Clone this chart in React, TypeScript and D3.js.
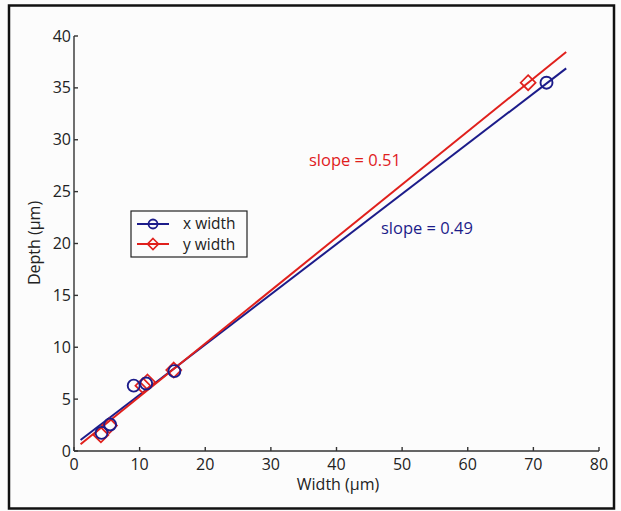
import React from "react";
import * as d3 from "d3";

const xWidthX = [4.2, 5.5, 9.1, 11.0, 15.3, 72.0];
const xWidthY = [1.75, 2.55, 6.3, 6.5, 7.7, 35.5];
const yWidthX = [4.1, 5.4, 10.5, 11.2, 15.2, 69.2];
const yWidthY = [1.55, 2.45, 6.3, 6.65, 7.8, 35.5];
const fitXRange = [1, 75];
const fitSlopes = [0.484, 0.511];
const fitIntercepts = [0.58, 0.14];
const xTicks = [0, 10, 20, 30, 40, 50, 60, 70, 80];
const yTicks = [0, 5, 10, 15, 20, 25, 30, 35, 40];
const seriesNames = ["x width", "y width"];
const slopeLabels = ["slope = 0.49", "slope = 0.51"];

const BLUE = "#1c1c8a";
const RED = "#e0201c";
const FONT = "'Open Sans', 'Liberation Sans', sans-serif";

export default function App() {
  const W = 621, H = 511;
  const x = d3.scaleLinear().domain([0, 80]).range([74, 599]);
  const y = d3.scaleLinear().domain([0, 40]).range([451, 36]);
  const line = d3.line<[number, number]>().x(d => x(d[0])).y(d => y(d[1]));
  const fit = (i: number) => fitXRange.map(v => [v, fitSlopes[i] * v + fitIntercepts[i]] as [number, number]);
  const diamond = (cx: number, cy: number, r: number) =>
    `M${cx},${cy - r}L${cx + r},${cy}L${cx},${cy + r}L${cx - r},${cy}Z`;

  return (
    <svg width={W} height={H} style={{ position: "absolute", left: 0, top: 0, background: "#fcfcfc" }} fontFamily={FONT}>
      <rect x={9} y={5.5} width={605} height={503} fill="#fcfcfc" stroke="#111" strokeWidth={2.5} />
      {/* fit lines */}
      <path d={line(fit(0)) || ""} stroke={BLUE} strokeWidth={2} fill="none" />
      <path d={line(fit(1)) || ""} stroke={RED} strokeWidth={2} fill="none" />
      {/* y width diamonds */}
      {yWidthX.map((v, i) => (
        <path key={"d" + i} d={diamond(x(v), y(yWidthY[i]), 7.5)} fill="none" stroke={RED} strokeWidth={1.7} />
      ))}
      {/* x width circles */}
      {xWidthX.map((v, i) => (
        <circle key={"c" + i} cx={x(v)} cy={y(xWidthY[i])} r={6} fill="none" stroke={BLUE} strokeWidth={1.9} />
      ))}
      {/* axes */}
      <line x1={x(0)} x2={x(0)} y1={y(40)} y2={y(0)} stroke="#333" strokeWidth={1.4} />
      <line x1={x(0)} x2={x(80)} y1={y(0)} y2={y(0)} stroke="#333" strokeWidth={1.4} />
      {yTicks.map(t => (
        <g key={"yt" + t}>
          <line x1={x(0)} x2={x(0) + 4} y1={y(t)} y2={y(t)} stroke="#333" strokeWidth={1.4} />
          <text x={x(0) - 3} y={y(t)} dy="0.35em" textAnchor="end" fontSize={16} fill="#222">{t}</text>
        </g>
      ))}
      {xTicks.map(t => (
        <g key={"xt" + t}>
          <line x1={x(t)} x2={x(t)} y1={y(0)} y2={y(0) - 4} stroke="#333" strokeWidth={1.4} />
          <text x={x(t)} y={y(0) + 19} textAnchor="middle" fontSize={16} fill="#222">{t}</text>
        </g>
      ))}
      <text x={338} y={490} textAnchor="middle" fontSize={16} fill="#222">Width (µm)</text>
      <text transform="translate(40,243) rotate(-90)" textAnchor="middle" fontSize={16} fill="#222">Depth (µm)</text>
      {/* slope labels */}
      <text x={381} y={234} fontSize={16.5} fill={BLUE}>{slopeLabels[0]}</text>
      <text x={309} y={166} fontSize={16.5} fill={RED}>{slopeLabels[1]}</text>
      {/* legend */}
      <rect x={131} y={211} width={116} height={46} fill="#fcfcfc" stroke="#222" strokeWidth={1.2} />
      <line x1={137} x2={169} y1={224} y2={224} stroke={BLUE} strokeWidth={2} />
      <circle cx={153} cy={224} r={4.5} fill="none" stroke={BLUE} strokeWidth={1.8} />
      <text x={183} y={223.5} dy="0.35em" fontSize={15.5} fill="#222">{seriesNames[0]}</text>
      <line x1={137} x2={169} y1={244} y2={244} stroke={RED} strokeWidth={2} />
      <path d={diamond(153, 244, 5.5)} fill="none" stroke={RED} strokeWidth={1.6} />
      <text x={183} y={244.5} dy="0.35em" fontSize={15.5} fill="#222">{seriesNames[1]}</text>
    </svg>
  );
}
